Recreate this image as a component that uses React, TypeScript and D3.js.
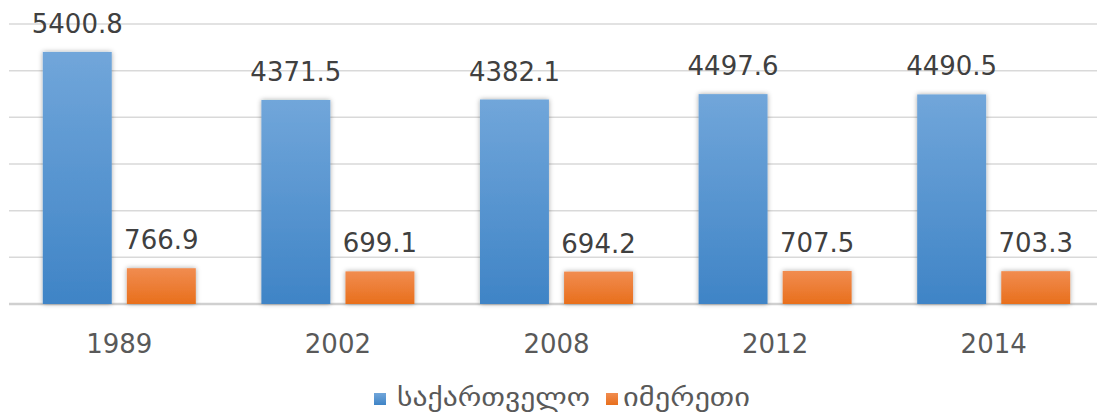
import React from "react";
import * as d3 from "d3";

// census population, thousands
const years = ["1989", "2002", "2008", "2012", "2014"];
const georgia = [5400.8, 4371.5, 4382.1, 4497.6, 4490.5];
const imereti = [766.9, 699.1, 694.2, 707.5, 703.3];
const seriesNames = ["საქართველო", "იმერეთი"];
const yTicks = [0, 1000, 2000, 3000, 4000, 5000, 6000];

const W = 1097;
const H = 416;
const FONT = "'DejaVu Sans', Verdana, sans-serif";

export default function App() {
  const x = d3.scaleBand().domain(years).range([10, 1103]).paddingInner(0.3).paddingOuter(0.15);
  const sub = d3.scaleBand().domain(["a", "b"]).range([0, x.bandwidth()]).paddingInner(0.18).paddingOuter(0);
  const y = d3.scaleLinear().domain([0, 6000]).range([304, 24]);

  const series = [
    { key: "a", values: georgia, fill: "url(#gradBlue)" },
    { key: "b", values: imereti, fill: "url(#gradOrange)" },
  ];

  return (
    <svg width={W} height={H} style={{ position: "absolute", left: 0, top: 0, background: "#fff" }}>
      <defs>
        <linearGradient id="gradBlue" x1="0" y1="0" x2="0" y2="1">
          <stop offset="0%" stopColor="#71a6da" />
          <stop offset="100%" stopColor="#3f84c6" />
        </linearGradient>
        <linearGradient id="gradOrange" x1="0" y1="0" x2="0" y2="1">
          <stop offset="0%" stopColor="#f18c50" />
          <stop offset="100%" stopColor="#e86f1c" />
        </linearGradient>
        <filter id="shadow" x="-20%" y="-20%" width="140%" height="140%">
          <feGaussianBlur in="SourceAlpha" stdDeviation="2.5" />
          <feOffset dx="0" dy="0" result="blur" />
          <feFlood floodColor="#000" floodOpacity="0.35" />
          <feComposite in2="blur" operator="in" />
          <feMerge>
            <feMergeNode />
            <feMergeNode in="SourceGraphic" />
          </feMerge>
        </filter>
      </defs>

      {/* gridlines */}
      {yTicks.map((t) => (
        <line
          key={t}
          x1={9}
          x2={W}
          y1={y(t)}
          y2={y(t)}
          stroke={t === 0 ? "#d0d0d0" : "#d9d9d9"}
          strokeWidth={t === 0 ? 2.5 : 1.5}
        />
      ))}

      {/* bars */}
      {series.map((s) =>
        years.map((yr, i) => {
          const bx = (x(yr) ?? 0) + (sub(s.key) ?? 0);
          const v = s.values[i];
          return (
            <g key={s.key + yr}>
              <rect
                x={bx}
                y={y(v)}
                width={sub.bandwidth()}
                height={y(0) - y(v)}
                fill={s.fill}
                filter="url(#shadow)"
              />
              <text
                x={bx + sub.bandwidth() / 2}
                y={y(v) - 19}
                textAnchor="middle"
                fontFamily={FONT}
                fontSize={26}
                fill="#404040"
              >
                {v.toFixed(1)}
              </text>
            </g>
          );
        })
      )}

      {/* category labels */}
      {years.map((yr) => (
        <text
          key={yr}
          x={(x(yr) ?? 0) + x.bandwidth() / 2}
          y={353}
          textAnchor="middle"
          fontFamily={FONT}
          fontSize={26}
          fill="#595959"
        >
          {yr}
        </text>
      ))}

      {/* legend */}
      <g>
        <rect x={374} y={393} width={12} height={12} fill="url(#gradBlue)" />
        <text x={397} y={406} fontFamily={FONT} fontSize={26} fill="#595959" textLength={193} lengthAdjust="spacingAndGlyphs">
          {seriesNames[0]}
        </text>
        <rect x={606} y={393} width={12} height={12} fill="url(#gradOrange)" />
        <text x={623} y={406} fontFamily={FONT} fontSize={26} fill="#595959" textLength={127} lengthAdjust="spacingAndGlyphs">
          {seriesNames[1]}
        </text>
      </g>
    </svg>
  );
}
